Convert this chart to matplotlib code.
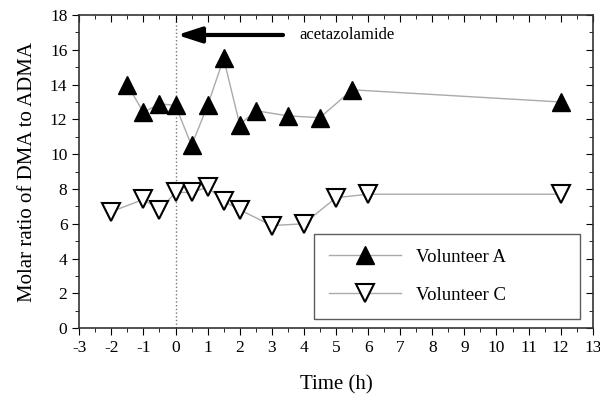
import matplotlib
matplotlib.use('Agg')
import matplotlib.pyplot as plt

# Volunteer A (filled up-triangles)
time_a = [-1.5, -1, -0.5, 0, 0.5, 1, 1.5, 2, 2.5, 3.5, 4.5, 5.5, 12]
ratio_a = [14.0, 12.4, 12.9, 12.8, 10.5, 12.8, 15.5, 11.7, 12.5, 12.2, 12.1, 13.7, 13.0]

# Volunteer C (open down-triangles)
time_c = [-2, -1, -0.5, 0, 0.5, 1, 1.5, 2, 3, 4, 5, 6, 12]
ratio_c = [6.7, 7.4, 6.8, 7.8, 7.8, 8.1, 7.3, 6.8, 5.9, 6.0, 7.5, 7.7, 7.7]

x_ticks = list(range(-3, 14))
y_ticks = list(range(0, 19, 2))

plt.rcParams['font.family'] = ['Liberation Serif', 'DejaVu Serif']
plt.rcParams['axes.unicode_minus'] = False

fig = plt.figure(figsize=(6, 3.94), dpi=100)
ax = fig.add_axes([0.132, 0.167, 0.856, 0.795])

ax.axvline(0, color='#777777', linestyle=':', linewidth=1, zorder=1)

ax.plot(time_a, ratio_a, color='#aaaaaa', linewidth=1, marker='^', markersize=13,
        markerfacecolor='black', markeredgecolor='black', label='Volunteer A', zorder=3)
ax.plot(time_c, ratio_c, color='#aaaaaa', linewidth=1, marker='v', markersize=13,
        markerfacecolor='white', markeredgecolor='black', markeredgewidth=1.5,
        label='Volunteer C', zorder=3)

# acetazolamide arrow
ax.annotate('', xy=(0.05, 16.85), xytext=(3.35, 16.85),
            arrowprops=dict(arrowstyle='-|>,head_length=1.45,head_width=0.47',
                            color='black', lw=3, mutation_scale=10,
                            shrinkA=0, shrinkB=0))
ax.text(3.85, 16.85, 'acetazolamide', fontsize=12, va='center', ha='left')

ax.set_xlim(-3, 13)
ax.set_ylim(0, 18)
ax.set_xticks(x_ticks)
ax.set_yticks(y_ticks)
ax.set_xticks([t + 0.5 for t in x_ticks[:-1]], minor=True)
ax.set_yticks(list(range(1, 18, 2)), minor=True)
ax.tick_params(axis='both', which='major', labelsize=12.5, length=5, direction='out')
ax.tick_params(axis='both', which='minor', length=3, direction='out')
ax.tick_params(which='both', top=True, right=True)

# top and right ticks point inwards, bottom and left point out
for t in ax.xaxis.get_major_ticks() + ax.xaxis.get_minor_ticks():
    t.tick2line.set_marker(3)
for t in ax.yaxis.get_major_ticks() + ax.yaxis.get_minor_ticks():
    t.tick2line.set_marker(0)

for s in ax.spines.values():
    s.set_color('#333333')
    s.set_linewidth(1.2)

ax.set_xlabel('Time (h)', fontsize=15, labelpad=14)
ax.set_ylabel('Molar ratio of DMA to ADMA', fontsize=15, labelpad=9)

leg = ax.legend(loc='lower left', bbox_to_anchor=(0.457, 0.03, 0.518, 0.26),
                mode='expand', fontsize=13.5, frameon=True, fancybox=False,
                edgecolor='#333333', borderpad=0.8, labelspacing=1.1,
                handlelength=3.85, handletextpad=0.8, borderaxespad=0)
leg.get_frame().set_linewidth(1)

fig.savefig('out.png', dpi=100)
